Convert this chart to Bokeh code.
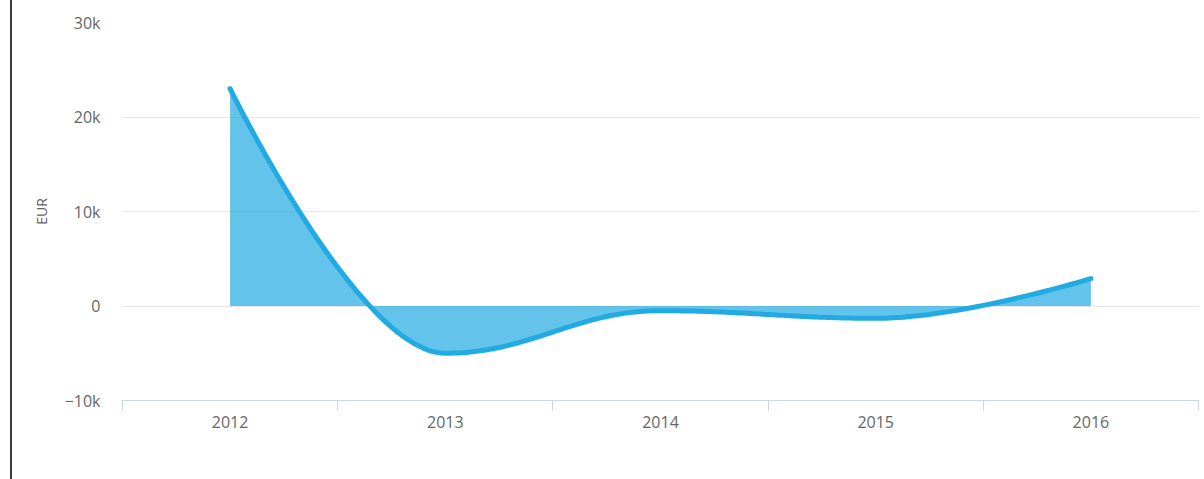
import numpy as np
from bokeh.plotting import figure
from bokeh.models import Range1d, FixedTicker, Legend, LegendItem
from bokeh.embed import file_html
from bokeh.resources import INLINE

# ---- data ----
categories = ["2012", "2013", "2014", "2015", "2016"]
values = [23000, -5000, -500, -1300, 2900]
series_name = "Resultaat voor belasting uit gewone bedrijfsuitoefening"
y_ticks = [-10000, 0, 10000, 20000, 30000]
y_tick_labels = ["\u221210k", "0", "10k", "20k", "30k"]

LINE = "#22aae2"
FONT = "Open Sans"


def spline_controls(xs, ys, smoothing=1.5):
    n = len(xs)
    left = [(xs[i], ys[i]) for i in range(n)]
    right = [(xs[i], ys[i]) for i in range(n)]
    denom = smoothing + 1
    for i in range(1, n - 1):
        lx, ly = xs[i - 1], ys[i - 1]
        nx, ny = xs[i + 1], ys[i + 1]
        px, py = xs[i], ys[i]
        lcx = (smoothing * px + lx) / denom
        lcy = (smoothing * py + ly) / denom
        rcx = (smoothing * px + nx) / denom
        rcy = (smoothing * py + ny) / denom
        if rcx != lcx:
            corr = ((rcy - lcy) * (rcx - px)) / (rcx - lcx) + py - rcy
            lcy += corr
            rcy += corr
        if lcy > ly and lcy > py:
            lcy = max(ly, py); rcy = 2 * py - lcy
        elif lcy < ly and lcy < py:
            lcy = min(ly, py); rcy = 2 * py - lcy
        if rcy > ny and rcy > py:
            rcy = max(ny, py); lcy = 2 * py - rcy
        elif rcy < ny and rcy < py:
            rcy = min(ny, py); lcy = 2 * py - rcy
        left[i] = (lcx, lcy)
        right[i] = (rcx, rcy)
    return left, right


xs = list(range(len(categories)))
left, right = spline_controls(xs, values)
cx, cy = [], []
t = np.linspace(0, 1, 60)
for i in range(1, len(xs)):
    p0 = (xs[i - 1], values[i - 1]); p1 = right[i - 1]; p2 = left[i]; p3 = (xs[i], values[i])
    bx = (1 - t) ** 3 * p0[0] + 3 * (1 - t) ** 2 * t * p1[0] + 3 * (1 - t) * t ** 2 * p2[0] + t ** 3 * p3[0]
    by = (1 - t) ** 3 * p0[1] + 3 * (1 - t) ** 2 * t * p1[1] + 3 * (1 - t) * t ** 2 * p2[1] + t ** 3 * p3[1]
    if i > 1:
        bx, by = bx[1:], by[1:]
    cx.extend(bx); cy.extend(by)

p = figure(
    frame_width=1076, frame_height=378,
    x_range=Range1d(-0.5, len(categories) - 0.5),
    y_range=Range1d(-10000, 30000),
    output_backend="svg", toolbar_location=None,
    min_border_left=110, min_border_right=6, min_border_top=22, min_border_bottom=0,
)
p.outline_line_color = None
p.background_fill_color = "white"

p.varea(x=cx, y1=0, y2=cy, fill_color=LINE, fill_alpha=0.7)
p.line(x=cx, y=cy, line_color=LINE, line_width=5, line_cap="round", line_join="round")
dummy = p.scatter(x=[np.nan], y=[np.nan], marker="circle", size=16, fill_color=LINE, line_color=LINE)
blank = p.scatter(x=[np.nan], y=[np.nan], marker="circle", size=1, fill_alpha=0, line_alpha=0)

# x axis
xa = p.xaxis[0]
xa.ticker = FixedTicker(ticks=xs, minor_ticks=[i - 0.5 for i in range(len(categories) + 1)])
xa.major_label_overrides = {i: c for i, c in enumerate(categories)}
xa.axis_line_color = "#ccd6eb"
xa.axis_line_width = 1
xa.major_tick_line_color = None
xa.major_tick_out = 10
xa.major_tick_in = 0
xa.minor_tick_line_color = "#ccd6eb"
xa.minor_tick_out = 10
xa.minor_tick_in = 0
xa.major_label_text_font = FONT
xa.major_label_text_font_size = "16px"
xa.major_label_text_color = "#666666"
xa.major_label_standoff = 5
p.xgrid.grid_line_color = None

# y axis
ya = p.yaxis[0]
ya.ticker = FixedTicker(ticks=y_ticks)
ya.major_label_overrides = dict(zip(y_ticks, y_tick_labels))
ya.axis_line_color = None
ya.major_tick_line_color = None
ya.major_tick_out = 0
ya.major_tick_in = 0
ya.minor_tick_line_color = None
ya.major_label_standoff = 22
ya.major_label_text_font = FONT
ya.major_label_text_font_size = "16px"
ya.major_label_text_color = "#666666"
ya.axis_label = "EUR"
ya.axis_label_text_font = FONT
ya.axis_label_text_font_size = "14px"
ya.axis_label_text_font_style = "normal"
ya.axis_label_text_color = "#666666"
ya.axis_label_standoff = 11
p.ygrid.grid_line_color = "#e6e6e6"

legend = Legend(items=[LegendItem(label=series_name, renderers=[dummy]),
                       LegendItem(label="\u00a0", renderers=[blank])],
                orientation="horizontal", location="center")
legend.border_line_color = None
legend.background_fill_alpha = 0
legend.label_text_font = FONT
legend.label_text_font_size = "17px"
legend.label_text_font_style = "bold"
legend.label_text_color = "#333333"
legend.glyph_width = 40
legend.glyph_height = 40
legend.label_standoff = 0
legend.label_width = 122
legend.spacing = 0
legend.padding = 0
legend.margin = 0
p.add_layout(legend, "below")

p.styles = {"border-left": "2px solid #3c3c3c", "margin-left": "10px"}

open("out.html", "w").write(file_html(p, INLINE))
